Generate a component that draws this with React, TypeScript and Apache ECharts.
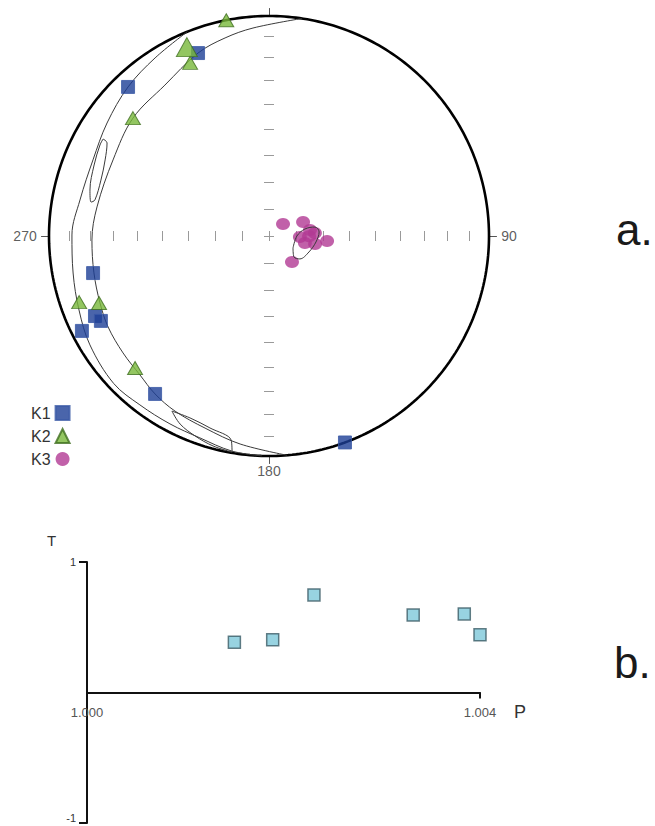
import React, { useEffect, useRef } from "react";
import * as echarts from "echarts";

// ---- (a) stereonet data: [trend°, plunge°] ----
const K1: number[][] = [
  [338.8, 11.8], [316.6, 7.5], [258.1, 19.4], [245.3, 14.0], [243.2, 15.5],
  [243.1, 5.2], [215.8, 12.5], [159.8, 0.0],
];
const K2: number[][] = [
  [348.8, 0.0], [336.5, 7.1], [335.5, 14.6], [310.9, 19.3], [250.8, 9.5],
  [248.5, 18.1], [225.4, 15.6],
];
const K3: number[][] = [
  [49.4, 83.2], [67.6, 76.4], [81.7, 74.7], [86.3, 73.0], [91.8, 78.6],
  [101.0, 76.5], [99.9, 72.7], [94.9, 68.4], [138.5, 77.2], [90.3, 75.2],
];
// confidence / girdle traces: [trend°, plunge°]
const OUTER_ARC: number[][] = [
  [338.2, 0], [327.4, 4.4], [316.6, 7.5], [304.9, 11.2], [293.4, 13.9], [280.8, 13.6],
  [270.3, 11.4], [259.3, 10.3], [248.7, 8.1], [238.7, 5.3], [226.5, 3.0], [217.4, 3.8],
  [207.8, 3.9], [198.9, 3.4], [189.8, 0.9], [181.8, 0],
];
const INNER_ARC: number[][] = [
  [8.6, 0], [355.6, 5.8], [347.5, 8.6], [338.8, 11.8], [325.4, 17.8], [310.9, 19.3],
  [296.0, 22.2], [279.6, 21.8], [268.7, 20.6], [258.1, 19.8], [248.4, 18.5], [240.5, 17.1],
  [231.3, 16.1], [222.9, 14.9], [215.8, 12.5], [208.2, 10.6], [198.4, 8.8], [187.9, 5.1],
  [175.3, 0],
];
const LOOP_WEST: number[][] = [
  [300.3, 13.7], [299.9, 16.2], [294.9, 19.0], [288.4, 20.6], [281.7, 20.3], [280.8, 18.8],
  [284.4, 17.1], [292.1, 15.3], [298.3, 13.8], [300.3, 13.7],
];
const LOOP_SOUTH: number[][] = [
  [209.0, 9.9], [203.5, 10.8], [197.1, 9.6], [190.5, 6.3], [189.7, 0.4], [194.9, 1.4],
  [200.3, 3.5], [205.3, 6.1], [209.0, 9.9],
];
const K3_ELLIPSE: number[][] = [
  [116.6, 80.1], [90.0, 79.7], [79.0, 76.5], [78.9, 72.7], [85.4, 71.4], [97.3, 72.5],
  [111.8, 74.1], [126.6, 75.8], [130.0, 78.0], [116.6, 80.1],
];
const DIP_TICKS = [10, 20, 30, 40, 50, 60, 70, 80];
const CARDINALS = [
  { trend: 0, text: "" },
  { trend: 90, text: "90" },
  { trend: 180, text: "180" },
  { trend: 270, text: "270" },
];

// ---- (b) P–T plot ----
const P_VALUES = [1.0015, 1.00189, 1.00231, 1.00332, 1.00384, 1.004];
const T_VALUES = [0.386, 0.404, 0.748, 0.594, 0.602, 0.442];
const P_TICKS = [1.0, 1.004];
const T_TICKS = [-1, 1];

const FONT = "Liberation Sans, Arial, Helvetica, sans-serif";

// Lambert equal-area (Schmidt) lower-hemisphere projection, unit primitive
function proj(trend: number, plunge: number): number[] {
  const t = (trend * Math.PI) / 180;
  const p = (plunge * Math.PI) / 180;
  const r = Math.SQRT2 * Math.sin((Math.PI / 2 - p) / 2);
  return [r * Math.sin(t), r * Math.cos(t)];
}
const radiusOfDip = (d: number) => Math.SQRT2 * Math.sin(((90 - d) * Math.PI) / 360);

export default function App() {
  const ref = useRef<HTMLDivElement>(null);
  useEffect(() => {
    document.body.style.margin = "0";
    if (!ref.current) return;
    const chart = echarts.init(ref.current, undefined, { renderer: "svg" });

    const primitive: number[][] = [];
    for (let a = 0; a <= 360; a += 1) primitive.push(proj(a, 0));

    const h = 5 / 220;
    const ticks: number[][][] = [];
    DIP_TICKS.forEach((d) => {
      const r = radiusOfDip(d);
      ticks.push([[r, -h], [r, h]]);
      ticks.push([[-r, -h], [-r, h]]);
      ticks.push([[-h, r], [h, r]]);
      ticks.push([[-h, -r], [h, -r]]);
    });
    ticks.push([[-h, 0], [h, 0]]);
    ticks.push([[0, -h], [0, h]]);
    const cardTicks = CARDINALS.map((c) => {
      const [x, y] = proj(c.trend, 0);
      return [[x, y], [x * 1.036, y * 1.036]];
    });

    const curve = (name: string, pts: number[][]) => ({
      type: "line",
      name,
      xAxisIndex: 0,
      yAxisIndex: 0,
      data: pts.map(([t, p]) => proj(t, p)),
      smooth: 0.35,
      showSymbol: false,
      symbol: "none",
      clip: false,
      lineStyle: { color: "#3a3a3a", width: 1 },
      z: 2,
      silent: true,
    });

    const option: any = {
      animation: false,
      backgroundColor: "#ffffff",
      textStyle: { fontFamily: FONT },
      grid: [
        { left: 49, top: 16, width: 440, height: 440, outerBoundsMode: "none", containLabel: false },
        { left: 87, top: 562, width: 393, height: 261, outerBoundsMode: "none", containLabel: false },
      ],
      xAxis: [
        { gridIndex: 0, type: "value", min: -1, max: 1, show: false },
        {
          gridIndex: 1,
          type: "value",
          min: 1.0,
          max: 1.004,
          interval: 0.004,
          position: "bottom",
          offset: -130.5,
          axisLine: { show: true, onZero: false, lineStyle: { color: "#111", width: 2 } },
          axisTick: { show: true, customValues: P_TICKS, length: 6, lineStyle: { color: "#111", width: 2 } },
          axisLabel: {
            customValues: P_TICKS,
            formatter: (v: number) => v.toFixed(3),
            fontSize: 13,
            color: "#555",
            margin: 13,
            fontFamily: FONT,
          },
          splitLine: { show: false },
        },
      ],
      yAxis: [
        { gridIndex: 0, type: "value", min: -1, max: 1, show: false },
        {
          gridIndex: 1,
          type: "value",
          min: -1,
          max: 1,
          interval: 1,
          axisLine: { show: true, onZero: false, lineStyle: { color: "#111", width: 2 } },
          axisTick: { show: true, customValues: T_TICKS, length: 8, lineStyle: { color: "#111", width: 2 } },
          axisLabel: {
            customValues: T_TICKS,
            fontSize: 11,
            color: "#333",
            margin: 11,
            fontFamily: FONT,
            formatter: (v: number) => (v < 0 ? `{lo|${v}}` : `{hi|${v}}`),
            rich: {
              lo: { fontSize: 11, color: "#333", fontFamily: FONT, padding: [0, 0, 10, 0] },
              hi: { fontSize: 11, color: "#333", fontFamily: FONT },
            },
          },
          splitLine: { show: false },
        },
      ],
      legend: {
        orient: "vertical",
        left: 26,
        top: 400,
        align: "right",
        itemWidth: 14,
        itemHeight: 14,
        itemGap: 7,
        textStyle: { fontSize: 16, color: "#333", fontFamily: FONT },
        data: [
          { name: "K1", icon: "rect" },
          { name: "K2", icon: "triangle" },
          { name: "K3", icon: "circle" },
        ],
      },
      graphic: [
        { type: "text", left: 616, top: 232 - 25, style: { text: "a.", fontSize: 44, fill: "#1a1a1a", fontFamily: FONT } },
        { type: "text", left: 614, top: 640, style: { text: "b.", fontSize: 44, fill: "#1a1a1a", fontFamily: FONT } },
        { type: "text", left: 47, top: 533, style: { text: "T", fontSize: 15, fill: "#333", fontFamily: FONT } },
        { type: "text", left: 514, top: 703, style: { text: "P", fontSize: 18, fill: "#333", fontFamily: FONT } },
      ],
      series: [
        {
          type: "lines",
          coordinateSystem: "cartesian2d",
          xAxisIndex: 0,
          yAxisIndex: 0,
          clip: false,
          data: ticks.map((c) => ({ coords: c })),
          lineStyle: { color: "#9a9a9a", width: 1, opacity: 1 },
          silent: true,
          z: 1,
        },
        {
          type: "lines",
          coordinateSystem: "cartesian2d",
          xAxisIndex: 0,
          yAxisIndex: 0,
          clip: false,
          data: cardTicks.map((c) => ({ coords: c })),
          lineStyle: { color: "#555", width: 1, opacity: 1 },
          silent: true,
          z: 1,
        },
        {
          type: "scatter",
          name: "cardinal",
          xAxisIndex: 0,
          yAxisIndex: 0,
          symbolSize: 1,
          clip: false,
          silent: true,
          itemStyle: { color: "rgba(0,0,0,0)" },
          data: CARDINALS.filter((c) => c.text).map((c) => {
            const [x, y] = proj(c.trend, 0);
            const pos = c.trend === 90 ? "right" : c.trend === 270 ? "left" : "bottom";
            return {
              value: [x * 1.04, y * 1.035],
              label: {
                show: true,
                formatter: c.text,
                position: pos,
                distance: c.trend === 180 ? 0 : 3,
                fontSize: 14,
                color: "#333",
                fontFamily: FONT,
              },
            };
          }),
          z: 3,
        },
        {
          type: "line",
          name: "primitive",
          xAxisIndex: 0,
          yAxisIndex: 0,
          data: primitive,
          showSymbol: false,
          symbol: "none",
          clip: false,
          lineStyle: { color: "#000", width: 2.6 },
          z: 2,
          silent: true,
        },
        curve("outer", OUTER_ARC),
        curve("inner", INNER_ARC),
        curve("loopW", LOOP_WEST),
        curve("loopS", LOOP_SOUTH),
        {
          type: "scatter",
          name: "K1",
          xAxisIndex: 0,
          yAxisIndex: 0,
          symbol: "rect",
          symbolSize: 13,
          clip: false,
          itemStyle: { color: "#1d3f96", borderColor: "#3b5aa6", borderWidth: 1 },
          data: K1.map(([t, p]) => proj(t, p)),
          z: 4,
        },
        {
          type: "scatter",
          name: "K2",
          xAxisIndex: 0,
          yAxisIndex: 0,
          symbol: "triangle",
          clip: false,
          itemStyle: { color: "#78b83a", borderColor: "#3f6e1f", borderWidth: 1 },
          data: K2.map(([t, p], i) => ({
            value: proj(t, p),
            symbolSize: i === 1 ? [21, 19] : [15, 13],
          })),
          z: 5,
        },
        {
          type: "scatter",
          name: "K3",
          xAxisIndex: 0,
          yAxisIndex: 0,
          symbol: "circle",
          symbolSize: [14, 12],
          clip: false,
          itemStyle: { color: "#b13a94" },
          data: K3.map(([t, p]) => proj(t, p)),
          z: 4,
        },
        { ...curve("k3ell", K3_ELLIPSE), z: 6 },
        {
          type: "scatter",
          name: "PT",
          xAxisIndex: 1,
          yAxisIndex: 1,
          symbol: "rect",
          symbolSize: 12,
          clip: false,
          itemStyle: { color: "#7ec8da", borderColor: "#3c5c66", borderWidth: 1.5 },
          data: P_VALUES.map((p, i) => [p, T_VALUES[i]]),
          z: 4,
        },
      ],
    };
    chart.setOption(option);
    return () => chart.dispose();
  }, []);
  return <div ref={ref} style={{ width: 655, height: 826 }} />;
}
